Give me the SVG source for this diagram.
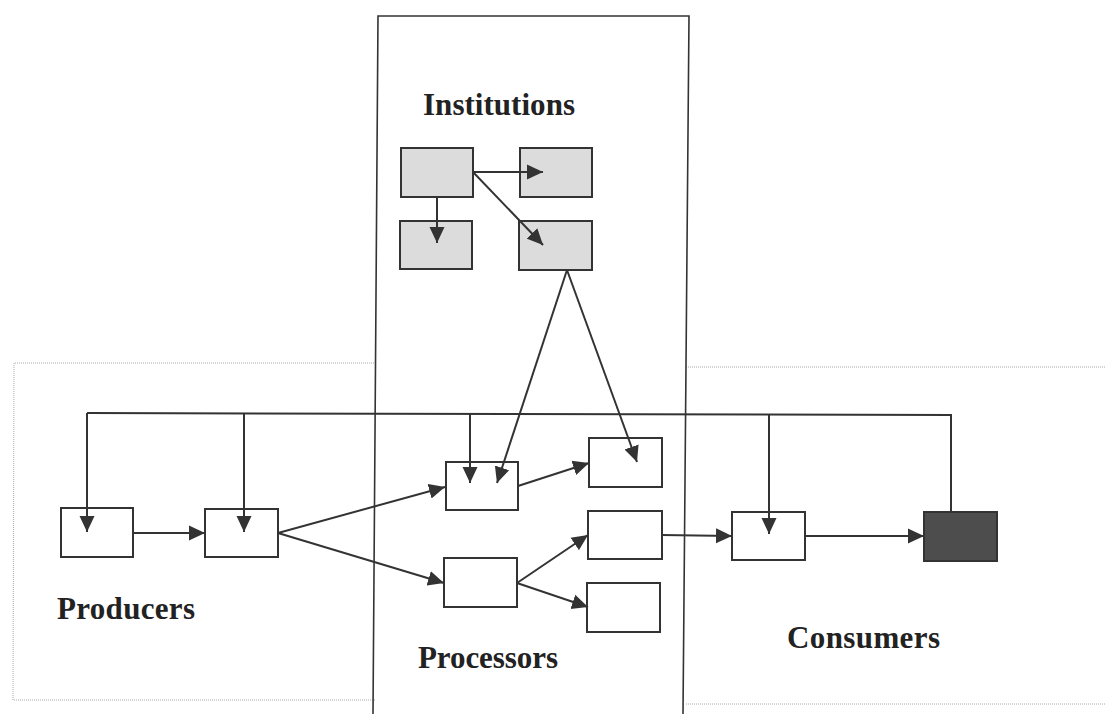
<svg xmlns="http://www.w3.org/2000/svg" width="1106" height="714" viewBox="0 0 1106 714">
<style>
.panel{fill:none;stroke:#aaa;stroke-width:1;stroke-dasharray:1 1}
.inst{fill:none;stroke:#333;stroke-width:1.6}
.box{fill:#fff;stroke:#333;stroke-width:2}
.gbox{fill:#dcdcdc;stroke:#333;stroke-width:2}
.dbox{fill:#4d4d4d;stroke:#333;stroke-width:2}
.c{fill:none;stroke:#333;stroke-width:2}
.ca{fill:none;stroke:#333;stroke-width:2;marker-end:url(#ah)}
.lbl{font-family:"Liberation Serif","Times New Roman",serif;font-weight:bold;font-size:31px;fill:#222}
</style>
<defs>
<marker id="ah" markerUnits="userSpaceOnUse" markerWidth="18" markerHeight="16" refX="16" refY="8" orient="auto" viewBox="0 0 18 16">
<path d="M0,0.5 L16,8 L0,15.5 Z" fill="#333"/>
</marker>
</defs>
<rect width="1106" height="714" fill="#fff"/>
<g id="panel-producers">
<path class="panel" d="M376,363 L14,363 L13,700 L376,700"/>
<text class="lbl" x="57" y="619" textLength="138">Producers</text>
</g>
<g id="panel-consumers">
<path class="panel" d="M686,367 L1106,367 M686,704 L1106,704"/>
<text class="lbl" x="787" y="648" textLength="153">Consumers</text>
</g>
<g id="panel-institutions">
<path class="inst" d="M373,714 L378,16 L689,16 L683,714"/>
<text class="lbl" x="423" y="115" textLength="152">Institutions</text>
<text class="lbl" x="418" y="668" textLength="140">Processors</text>
</g>
<g id="inst-1"><rect class="gbox" x="401" y="148" width="72" height="49"/></g>
<g id="inst-2"><rect class="gbox" x="520" y="148" width="72" height="49"/></g>
<g id="inst-3"><rect class="gbox" x="400" y="221" width="72" height="48"/></g>
<g id="inst-4"><rect class="gbox" x="519" y="221" width="73" height="49"/></g>
<g id="prod-1"><rect class="box" x="61" y="508" width="72" height="49"/></g>
<g id="prod-2"><rect class="box" x="205" y="509" width="73" height="48"/></g>
<g id="proc-1"><rect class="box" x="446" y="462" width="72" height="48"/></g>
<g id="proc-2"><rect class="box" x="444" y="558" width="73" height="49"/></g>
<g id="proc-3"><rect class="box" x="589" y="438" width="73" height="49"/></g>
<g id="proc-4"><rect class="box" x="588" y="511" width="74" height="48"/></g>
<g id="proc-5"><rect class="box" x="587" y="583" width="73" height="49"/></g>
<g id="cons-1"><rect class="box" x="732" y="512" width="73" height="48"/></g>
<g id="cons-2"><rect class="dbox" x="924" y="512" width="73" height="49"/></g>
<g id="connectors">
<path class="ca" d="M473,172 L543,172"/>
<path class="ca" d="M437,197 L437,243"/>
<path class="ca" d="M473,172 L543,245"/>
<path class="ca" d="M567,270 L497,483"/>
<path class="ca" d="M567,270 L637,462"/>
<path class="c" d="M951,512 L951,415 L87,413"/>
<path class="ca" d="M87,413 L87,532"/>
<path class="ca" d="M244,413 L244,532"/>
<path class="ca" d="M470,414 L470,483"/>
<path class="ca" d="M769,415 L769,534"/>
<path class="ca" d="M133,533 L205,533"/>
<path class="ca" d="M278,533 L445,487"/>
<path class="ca" d="M278,533 L444,583"/>
<path class="ca" d="M518,486 L589,463"/>
<path class="ca" d="M517,583 L588,535"/>
<path class="ca" d="M517,583 L588,607"/>
<path class="ca" d="M662,535 L732,536"/>
<path class="ca" d="M805,536 L924,536"/>
</g>
</svg>
